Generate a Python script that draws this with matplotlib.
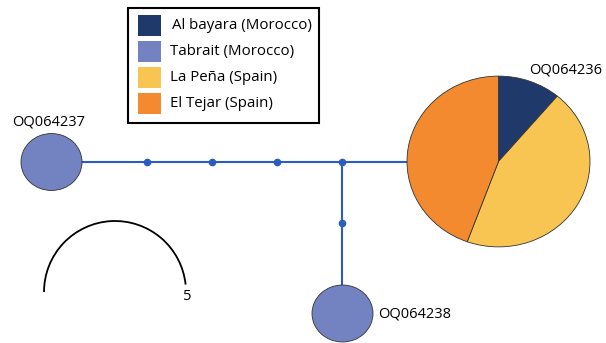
import matplotlib
matplotlib.use('Agg')
import matplotlib.pyplot as plt
from matplotlib.patches import Wedge, Arc, Rectangle
from matplotlib.transforms import Affine2D

plt.rcParams['font.family'] = ['Open Sans', 'DejaVu Sans']

# populations and colours
populations = ['Al bayara (Morocco)', 'Tabrait (Morocco)', 'La Peña (Spain)', 'El Tejar (Spain)']
pop_colors = ['#1f396b', '#7383c2', '#f9c552', '#f38a30']

# haplotypes and sample counts per population
haplotypes = ['OQ064236', 'OQ064237', 'OQ064238']
counts = {
    'OQ064236': [1, 0, 4, 4],
    'OQ064237': [0, 1, 0, 0],
    'OQ064238': [0, 1, 0, 0],
}

# layout (pixel coords), not data
node_pos = {'OQ064236': (498.5, 161.5), 'OQ064237': (51.5, 162), 'OQ064238': (342.5, 313.5)}
junction = (342, 162)
unit_w, unit_h = 61, 57.5     # size of a node with one sample
line_color = '#2b5cc2'


def draw_pie(ax, center, vals, rx, ry):
    total = sum(vals)
    trans = Affine2D().scale(rx, ry).translate(*center) + ax.transData
    # start at the top, go clockwise (y axis is inverted)
    start = -90
    for v, c in zip(vals, pop_colors):
        if v == 0:
            continue
        ang = 360 * v / total
        w = Wedge((0, 0), 1, start, start + ang, facecolor=c, edgecolor='#333333',
                  linewidth=0.6, transform=trans, zorder=3)
        ax.add_patch(w)
        start += ang


fig = plt.figure(figsize=(6.06, 3.43), dpi=100)
ax = fig.add_axes([0, 0, 1, 1])
ax.set_xlim(0, 606)
ax.set_ylim(343, 0)
ax.axis('off')

# network edges
ax.plot([node_pos['OQ064237'][0], node_pos['OQ064236'][0]], [162, 162],
        color=line_color, lw=1.5, zorder=1)
ax.plot([junction[0], junction[0]], [junction[1], node_pos['OQ064238'][1]],
        color=line_color, lw=1.5, zorder=1)

# mutation steps / median vector
steps_x = [147, 212, 277, 342]
ax.plot(steps_x, [162] * len(steps_x), 'o', color=line_color, ms=4.5, zorder=2)
ax.plot([342], [223], 'o', color=line_color, ms=4.5, zorder=2)

# haplotype nodes
for h in haplotypes:
    n = sum(counts[h])
    s = n ** 0.5
    draw_pie(ax, node_pos[h], counts[h], unit_w * s / 2, unit_h * s / 2 * 0.99)

ax.text(529, 70, 'OQ064236', fontsize=10.5, va='center', ha='left')
ax.text(12, 122, 'OQ064237', fontsize=10.5, va='center', ha='left')
ax.text(378, 314, 'OQ064238', fontsize=10.5, va='center', ha='left')

# size scale
ax.add_patch(Arc((115, 292), 142, 142, theta1=180, theta2=354, color='black', lw=1.3))
ax.text(187, 297, '5', fontsize=10.5, ha='center', va='center')

# legend
ax.add_patch(Rectangle((128, 8), 191, 115, facecolor='white', edgecolor='black', lw=1.5, zorder=4))
for i, (p, c) in enumerate(zip(populations, pop_colors)):
    y = 15 + i * 26
    ax.add_patch(Rectangle((138, y), 23, 21, facecolor=c, edgecolor='none', zorder=5))
    ax.text(170 if i else 172, y + 10.5, p, fontsize=10.8, va='center', ha='left', zorder=5)

fig.savefig('out.png', dpi=100)
